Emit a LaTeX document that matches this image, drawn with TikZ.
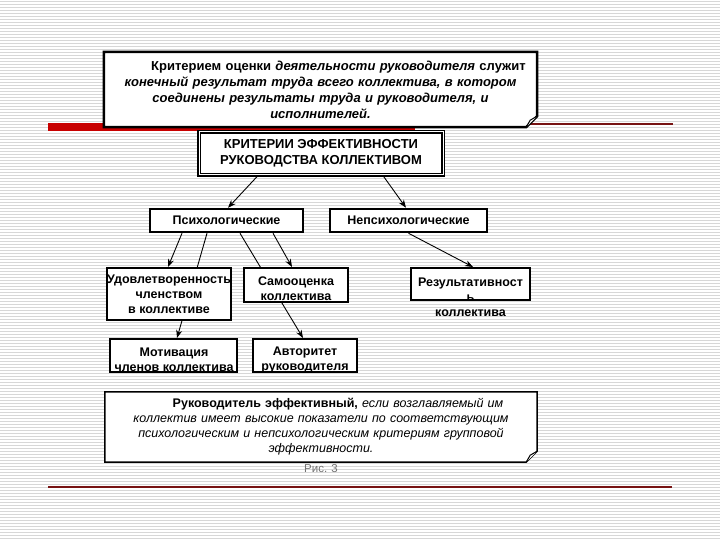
\documentclass[tikz,border=0pt]{standalone}
\usepackage{fontspec}
\setmainfont{Liberation Sans}
\usetikzlibrary{arrows.meta,calc}
\pgfdeclarelayer{bg}
\pgfdeclarelayer{conn}
\pgfsetlayers{bg,conn,main}
\definecolor{stripe}{RGB}{215,215,215}
\definecolor{barred}{RGB}{200,0,0}
\definecolor{linered}{RGB}{120,20,20}
\begin{document}
\begin{tikzpicture}[x=1pt,y=-1pt,
  box/.style={draw=black, line width=2pt, fill=white, inner sep=0pt, align=center,
    font=\bfseries\fontsize{12.5}{15}\selectfont},
  thickbox/.style={box, line width=2.5pt},
  lbl/.style={inner sep=0pt, align=center, font=\bfseries\fontsize{12.5}{15}\selectfont},
  conline/.style={line width=0.9pt, draw=black},
  arr/.style={conline, -{Stealth[length=8pt,width=6pt]}},
  callout/.style={inner xsep=4pt, inner ysep=0pt, align=center}
]
\useasboundingbox (0,0) rectangle (720,540);
\begin{pgfonlayer}{bg}
  \fill[white] (0,0) rectangle (720,540);
  \foreach \k in {0,...,179} {
    \draw[stripe, line width=1.2pt] (0,{\k*3+1.5}) -- (720,{\k*3+1.5});
  }
  \fill[barred] (48,123) rectangle (415,131);
  \draw[linered, line width=1.2pt] (415,124) -- (673,124);
  \draw[linered, line width=1.2pt] (48,487) -- (672,487);
\end{pgfonlayer}

% top callout
\node[callout, text width=425pt, minimum height=75pt, font=\bfseries\fontsize{13}{16}\selectfont] (top) at (320.5,89.5)
  {\hspace*{36pt}Критерием оценки \textit{деятельности руководителя} служит\\
   \textit{конечный результат труда всего коллектива, в котором}\\
   \textit{соединены результаты труда и руководителя, и}\\
   \textit{исполнителей.}};

% main header
\node[box, draw=black, line width=1.2pt, double=white, double distance=1pt,
      minimum width=244pt, minimum height=43pt, font=\bfseries\fontsize{13}{16}\selectfont] (krit) at (321,153.5)
  {КРИТЕРИИ ЭФФЕКТИВНОСТИ\\РУКОВОДСТВА КОЛЛЕКТИВОМ};

\node[thickbox, minimum width=153pt, minimum height=23pt] (psy) at (226.5,220.5) {Психологические};
\node[thickbox, minimum width=157pt, minimum height=23pt] (nep) at (408.5,220.5) {Непсихологические};

\node[box, minimum width=124pt, minimum height=52pt] (udo) at (169,294)
  {Удовлетворенность\\членством\\в коллективе};
\node[box, minimum width=104pt, minimum height=34pt] (sam) at (296,285) {};
\node[lbl] (samtxt) at (296,289) {Самооценка\\коллектива};
\node[box, minimum width=119pt, minimum height=32pt] (rez) at (470.5,284) {};
\node[lbl] (reztxt) at (470.5,297) {Результативност\\ь\\коллектива};

\node[box, minimum width=127pt, minimum height=33pt] (mot) at (173.5,355.5) {};
\node[lbl] (mottxt) at (174,360) {Мотивация\\членов коллектива};
\node[box, minimum width=104pt, minimum height=33pt] (avt) at (305,355.5) {};
\node[lbl] (avttxt) at (305,360) {Авторитет\\руководителя};

% bottom callout
\node[callout, text width=424pt, minimum height=70pt, font=\fontsize{12.5}{15}\selectfont] (bot) at (321,427)
  {\hspace*{34pt}\textbf{Руководитель эффективный,} \textit{если возглавляемый им}\\
   \textit{коллектив имеет высокие показатели по соответствующим}\\
   \textit{психологическим и непсихологическим критериям групповой}\\
   \textit{эффективности.}};

\node[font=\fontsize{11.5}{13}\selectfont, text=black!55, inner sep=0pt] (fig) at (321,469) {Рис. 3};

\begin{pgfonlayer}{conn}
  % callout shapes
  \draw[line width=2.5pt, fill=white, line join=miter]
    (top.north west) -- (top.north east) -- ([yshift=11pt]top.south east)
    -- ([xshift=-11pt]top.south east) -- (top.south west) -- cycle;
  \draw[line width=1pt, fill=white]
    ([xshift=-11pt]top.south east) -- ([xshift=-7pt,yshift=7pt]top.south east)
    -- ([yshift=11pt]top.south east);
  \draw[line width=1.5pt, fill=white, line join=miter]
    (bot.north west) -- (bot.north east) -- ([yshift=11pt]bot.south east)
    -- ([xshift=-11pt]bot.south east) -- (bot.south west) -- cycle;
  \draw[line width=1pt, fill=white]
    ([xshift=-11pt]bot.south east) -- ([xshift=-7pt,yshift=7pt]bot.south east)
    -- ([yshift=11pt]bot.south east);
  % connectors
  \draw[arr] ([xshift=-63pt]krit.south) -- ([xshift=1.5pt]psy.north);
  \draw[arr] ([xshift=62pt]krit.south) -- ([xshift=-2.5pt]nep.north);
  \draw[arr] ([xshift=-44.5pt]psy.south) -- ([xshift=-1pt]udo.north);
  \draw[arr] ([xshift=-19.5pt]psy.south) -- ([xshift=3.5pt]mot.north);
  \draw[arr] ([xshift=13.5pt]psy.south) -- ([xshift=-2pt]avt.north);
  \draw[arr] ([xshift=46.5pt]psy.south) -- ([xshift=-4pt]sam.north);
  \draw[arr] (nep.south) -- ([xshift=2.5pt]rez.north);
\end{pgfonlayer}
\end{tikzpicture}
\end{document}
